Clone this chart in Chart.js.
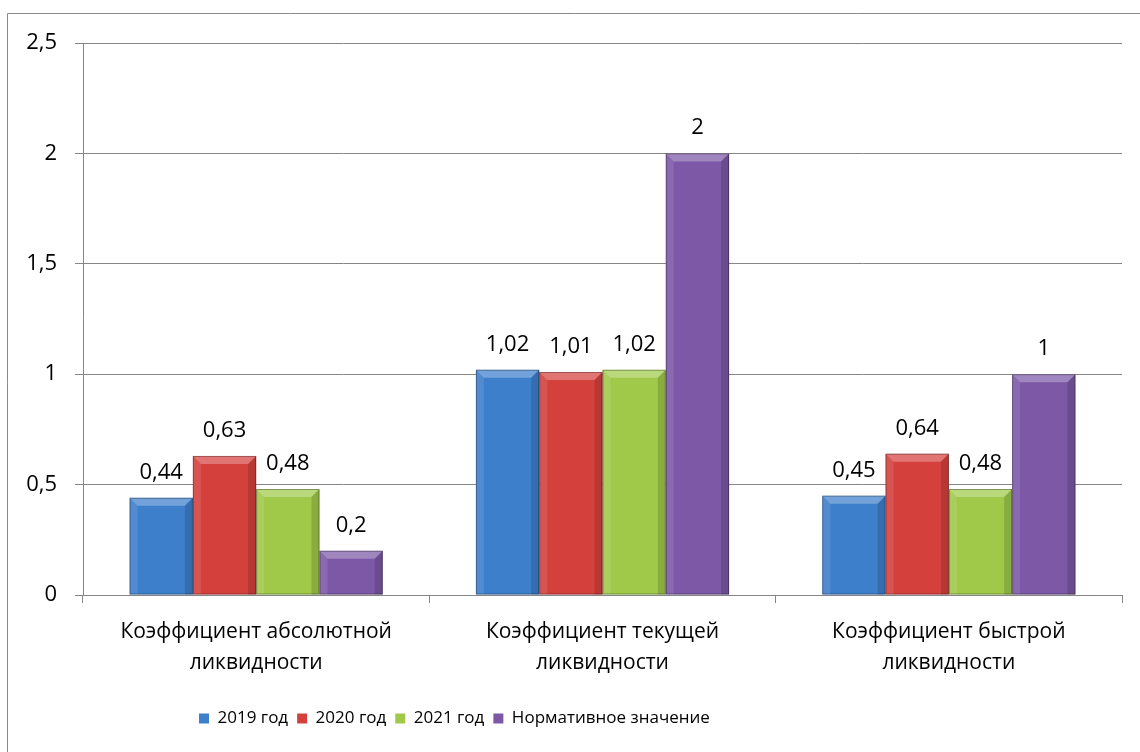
<!DOCTYPE html>
<html lang="ru">
<head>
<meta charset="utf-8">
<title>Коэффициенты ликвидности</title>
<script src="https://cdn.jsdelivr.net/npm/chart.js@4"></script>
<style>
  html, body { margin: 0; padding: 0; background: #fff; }
  #wrap { position: relative; width: 1140px; height: 752px; }
</style>
</head>
<body>
<div id="wrap"><canvas id="liquidityChart"></canvas></div>
<script>
// данные диаграммы
const categories = [
  ["Коэффициент абсолютной", "ликвидности"],
  ["Коэффициент текущей", "ликвидности"],
  ["Коэффициент быстрой", "ликвидности"]
];
const seriesNames = ["2019 год", "2020 год", "2021 год", "Нормативное значение"];
const values2019 = [0.44, 1.02, 0.45];
const values2020 = [0.63, 1.01, 0.64];
const values2021 = [0.48, 1.02, 0.48];
const valuesNorm = [0.2, 2, 1];
const yMin = 0, yMax = 2.5, yStep = 0.5;

const colors = ["#3E7FCC", "#D4413D", "#A0C94A", "#7C58A6"];
const FONT = "'Open Sans', 'Noto Sans', sans-serif";

// запятая вместо точки
function fmt(v) {
  return String(v).replace(".", ",");
}

// рамка вокруг диаграммы
const framePlugin = {
  id: "frame",
  beforeDraw(chart) {
    const ctx = chart.ctx;
    ctx.save();
    ctx.strokeStyle = "#8a8a8a";
    ctx.lineWidth = 1;
    ctx.beginPath();
    ctx.moveTo(7.5, chart.height);
    ctx.lineTo(7.5, 13.5);
    ctx.lineTo(chart.width, 13.5);
    ctx.stroke();
    ctx.restore();
  }
};

// объём столбцов (фаска) и подписи значений
const barPlugin = {
  id: "bevelLabels",
  afterDatasetsDraw(chart) {
    const ctx = chart.ctx;
    chart.data.datasets.forEach((ds, i) => {
      const meta = chart.getDatasetMeta(i);
      meta.data.forEach((bar, j) => {
        const p = bar.getProps(["x", "y", "base", "width"], true);
        const l = p.x - p.width / 2, r = p.x + p.width / 2;
        const t = p.y, b = p.base;
        const bv = Math.min(8, (b - t) / 2);
        ctx.save();
        // верхняя фаска
        ctx.fillStyle = "rgba(255,255,255,0.28)";
        ctx.beginPath();
        ctx.moveTo(l, t); ctx.lineTo(r, t);
        ctx.lineTo(r - bv, t + bv); ctx.lineTo(l + bv, t + bv);
        ctx.closePath(); ctx.fill();
        // левая грань
        ctx.fillStyle = "rgba(255,255,255,0.10)";
        ctx.beginPath();
        ctx.moveTo(l, t); ctx.lineTo(l + bv, t + bv);
        ctx.lineTo(l + bv, b); ctx.lineTo(l, b);
        ctx.closePath(); ctx.fill();
        // правая грань
        ctx.fillStyle = "rgba(0,0,0,0.14)";
        ctx.beginPath();
        ctx.moveTo(r, t); ctx.lineTo(r - bv, t + bv);
        ctx.lineTo(r - bv, b); ctx.lineTo(r, b);
        ctx.closePath(); ctx.fill();
        // контур
        ctx.strokeStyle = "rgba(0,0,0,0.3)";
        ctx.lineWidth = 1;
        ctx.strokeRect(l + 0.5, t + 0.5, p.width - 1, b - t - 1);
        // подпись
        ctx.fillStyle = "#000";
        ctx.font = "22px " + FONT;
        ctx.textAlign = "center";
        ctx.textBaseline = "alphabetic";
        ctx.fillText(fmt(ds.data[j]), p.x, t - 19);
        ctx.restore();
      });
    });
  }
};

// легенда сдвинута влево, как в оригинале
const legendPlacePlugin = {
  id: "legendPlace",
  afterLayout(chart) {
    const lg = chart.legend;
    const h = lg.height;
    lg.left = 190;
    lg.top = 701;
    lg.bottom = lg.top + h;
  }
};

const seriesData = [values2019, values2020, values2021, valuesNorm];

new Chart(document.getElementById("liquidityChart"), {
  type: "bar",
  data: {
    labels: categories,
    datasets: seriesNames.map((name, i) => ({
      label: name,
      data: seriesData[i],
      backgroundColor: colors[i],
      borderWidth: 0,
      barPercentage: 1,
      categoryPercentage: 0.731
    }))
  },
  options: {
    responsive: true,
    maintainAspectRatio: false,
    animation: false,
    layout: { padding: { left: 0, top: 43, right: 18, bottom: 0 } },
    plugins: {
      tooltip: { enabled: false },
      legend: {
        position: "bottom",
        align: "start",
        labels: {
          boxWidth: 10,
          boxHeight: 10,
          padding: 9,
          color: "#000",
          font: { family: FONT, size: 17 }
        }
      }
    },
    scales: {
      x: {
        grid: { drawOnChartArea: false, drawTicks: true, tickLength: 8, color: "#868686" },
        border: { color: "#868686" },
        ticks: {
          color: "#000",
          padding: 13,
          maxRotation: 0,
          font: { family: FONT, size: 21, lineHeight: 1.48 }
        },
        afterFit(scale) {
          scale.height = 752 - 595 - scale.chart.legend.height;
        }
      },
      y: {
        min: yMin,
        max: yMax,
        grid: { color: "#868686", tickLength: 8 },
        border: { color: "#868686" },
        ticks: {
          stepSize: yStep,
          color: "#000",
          padding: 18,
          font: { family: FONT, size: 22 },
          callback: v => fmt(v)
        },
        afterFit(scale) {
          scale.width = 83;
        }
      }
    }
  },
  plugins: [framePlugin, barPlugin, legendPlacePlugin]
});
</script>
</body>
</html>
